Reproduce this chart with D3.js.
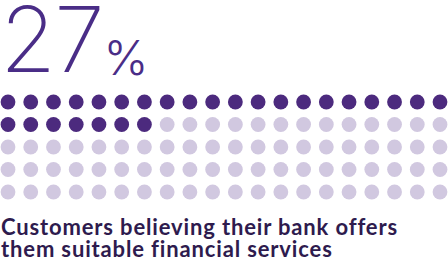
<!DOCTYPE html>
<html>
<head>
<meta charset="utf-8">
<script src="https://cdn.jsdelivr.net/npm/d3@7"></script>
<style>
  body { margin: 0; background: #fff; }
</style>
</head>
<body>
<div id="chart"></div>
<script>
// data
const share = 27;
const total = 100;
const columns = 20;
const caption = ["Customers believing their bank offers", "them suitable financial services"];

const svgWidth = 448;
const svgHeight = 263;

const svg = d3.select("#chart")
  .append("svg")
  .attr("width", svgWidth)
  .attr("height", svgHeight);

const rows = Math.ceil(total / columns);
const dots = d3.range(total).map(i => ({
  i: i,
  col: i % columns,
  row: Math.floor(i / columns),
  on: i < share
}));

// scales for the dot grid
const x = d3.scalePoint()
  .domain(d3.range(columns))
  .range([8, 440]);

const y = d3.scalePoint()
  .domain(d3.range(rows))
  .range([102, 192]);

// big number
const big = svg.append("text")
  .attr("x", 0)
  .attr("y", 72)
  .attr("fill", "#4a2d87")
  .style("font-family", "Inter, 'Open Sans', sans-serif")
  .style("font-weight", 200);

big.append("tspan")
  .style("font-size", "91px")
  .style("letter-spacing", "-2px")
  .text(share);

big.append("tspan")
  .attr("dx", 1)
  .attr("dy", 3)
  .style("font-size", "48px")
  .style("font-weight", 300)
  .text("%");

// dots
svg.selectAll("circle")
  .data(dots)
  .enter()
  .append("circle")
  .attr("cx", d => x(d.col))
  .attr("cy", d => y(d.row))
  .attr("r", 7.4)
  .attr("fill", d => d.on ? "#4c2a7e" : "#d1c8e0");

// caption, one text block with a line per tspan
svg.append("text")
  .attr("class", "caption")
  .attr("y", 235)
  .attr("fill", "#2e1b4e")
  .style("font-family", "Lato, 'Open Sans', sans-serif")
  .style("font-weight", 700)
  .style("font-size", "22px")
  .style("letter-spacing", "0.85px")
  .selectAll("tspan")
  .data(caption)
  .enter()
  .append("tspan")
  .attr("x", 1)
  .attr("dy", (d, i) => i === 0 ? 0 : 22)
  .text(d => d);
</script>
</body>
</html>
